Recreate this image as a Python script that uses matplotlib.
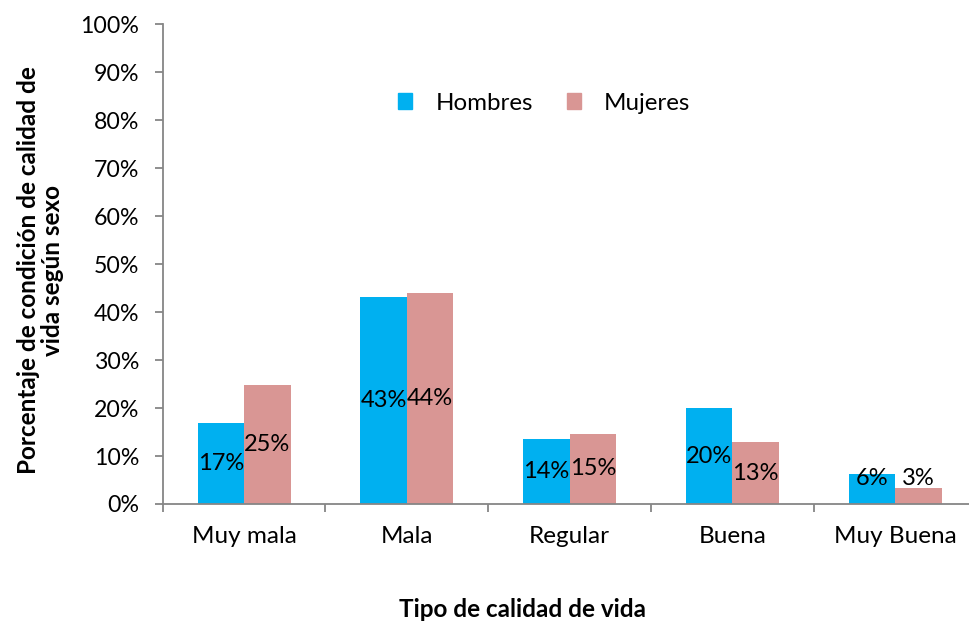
import numpy as np
import matplotlib
matplotlib.use("Agg")
import matplotlib.pyplot as plt
from matplotlib.patches import Patch

plt.rcParams['font.family'] = ['Lato', 'DejaVu Sans']

categorias = ["Muy mala", "Mala", "Regular", "Buena", "Muy Buena"]
hombres = [16.8, 43.1, 13.5, 20.0, 6.3]
mujeres = [24.9, 44.0, 14.6, 12.9, 3.3]

c_hombres = "#00B0F0"
c_mujeres = "#D99694"
gris = "#868686"

fig = plt.figure(figsize=(9.7, 6.25), dpi=100)
ax = fig.add_axes([0.1677, 0.1936, 0.8391, 0.7675])

x = np.arange(len(categorias))
w = 0.286
ax.bar(x - w / 2, hombres, w, color=c_hombres, label="Hombres")
ax.bar(x + w / 2, mujeres, w, color=c_mujeres, label="Mujeres")

# etiquetas de datos centradas en cada barra (las barras bajas se suben un poco)
for serie, xs in ((hombres, x - w / 2), (mujeres, x + w / 2)):
    for xi, v in zip(xs, serie):
        ax.text(xi, max(v / 2, 5.4), f"{v:.0f}%", ha="center", va="center",
                fontsize=17, color="black")

ax.set_xlim(-0.5, 4.5)
ax.set_ylim(0, 100)
ax.set_yticks(np.arange(0, 101, 10))
ax.set_yticklabels([f"{t}%" for t in range(0, 101, 10)])
ax.set_xticks(x)
ax.set_xticklabels(categorias)
ax.set_xticks(np.arange(-0.5, 4.6, 1), minor=True)

ax.tick_params(axis="x", which="major", length=0, pad=16, labelsize=17.5)
ax.tick_params(axis="x", which="minor", length=6, width=1.3, color=gris, direction="out")
ax.tick_params(axis="y", length=6, width=1.3, color=gris, pad=11, labelsize=16.7)

for s in ("top", "right"):
    ax.spines[s].set_visible(False)
for s in ("left", "bottom"):
    ax.spines[s].set_color(gris)
    ax.spines[s].set_linewidth(1.3)

ax.set_ylabel("Porcentaje de condición de calidad de\nvida según sexo",
              fontsize=17.5, fontweight="bold", labelpad=12, linespacing=1.05)
ax.set_xlabel("Tipo de calidad de vida", fontsize=17.5, fontweight="bold")
ax.xaxis.set_label_coords(0.4415, -0.196)
ax.yaxis.label.set_y(0.4875)

ax.legend(handles=[Patch(color=c_hombres, label="Hombres"),
                   Patch(color=c_mujeres, label="Mujeres")],
          loc="center", bbox_to_anchor=(0.561, 0.835), bbox_transform=fig.transFigure,
          ncol=2, frameon=False, fontsize=17.4, handlelength=0.6, handleheight=0.6,
          handletextpad=0.95, columnspacing=1.4)

fig.savefig("out.png", dpi=100)
